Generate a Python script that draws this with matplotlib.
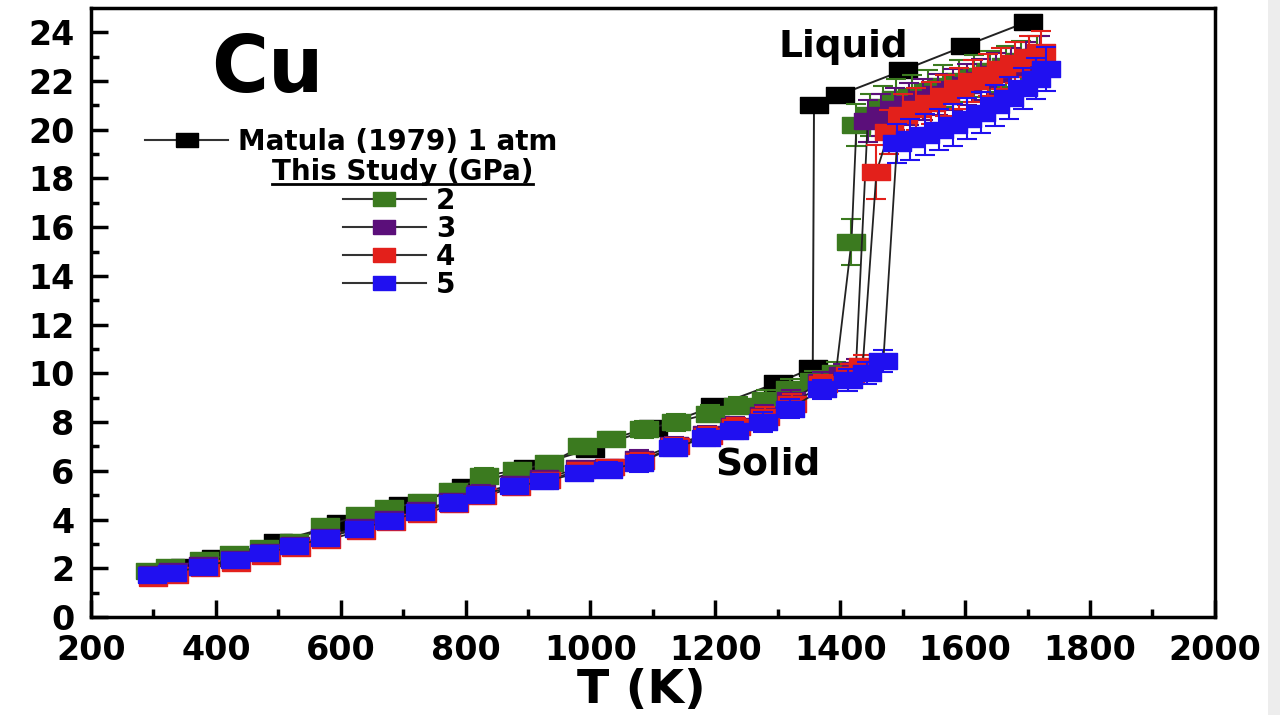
import matplotlib.pyplot as plt
from matplotlib.lines import Line2D
from matplotlib.patches import Rectangle

plt.rcParams['font.family'] = 'DejaVu Sans'
plt.rcParams['font.weight'] = 'bold'

# Matula (1979), 1 atm
T_matula = [300, 350, 400, 500, 600, 700, 800, 900, 1000, 1100, 1200, 1300, 1356,
            1358, 1400, 1500, 1600, 1700]
rho_matula = [1.72, 2.06, 2.41, 3.10, 3.84, 4.58, 5.33, 6.13, 6.90, 7.74, 8.66, 9.62, 10.22,
              21.03, 21.44, 22.43, 23.44, 24.43]

# this study, 2 GPa
T_2 = [294, 327, 381, 429, 477, 525, 575, 631, 678, 730, 779, 830, 882, 934, 986, 1033,
       1085, 1137, 1191, 1237, 1281, 1320, 1358, 1393, 1418, 1426, 1447, 1468, 1490, 1515,
       1540, 1565, 1590, 1615, 1640, 1665, 1690, 1715]
rho_2 = [1.90, 2.04, 2.34, 2.57, 2.84, 3.10, 3.72, 4.18, 4.46, 4.74, 5.18, 5.80, 6.02, 6.31,
         7.00, 7.31, 7.70, 8.00, 8.35, 8.67, 8.92, 9.36, 9.70, 10.00, 15.40, 20.20, 20.60,
         20.95, 21.25, 21.40, 21.60, 21.80, 22.00, 22.20, 22.40, 22.60, 22.80, 23.00]
err_2 = [0.2, 0.2, 0.2, 0.2, 0.2, 0.25, 0.25, 0.25, 0.25, 0.25, 0.3, 0.3, 0.3, 0.3, 0.3,
         0.3, 0.35, 0.35, 0.35, 0.35, 0.4, 0.4, 0.4, 0.45, 0.95, 0.85, 0.85, 0.85, 0.85,
         0.85, 0.85, 0.85, 0.85, 0.85, 0.85, 0.85, 0.85, 0.85]

# 3 GPa
T_3 = [299, 331, 380, 431, 478, 526, 575, 631, 678, 728, 780, 824, 879, 926, 983, 1029,
       1078, 1133, 1186, 1231, 1278, 1321, 1371, 1405, 1425, 1444, 1465, 1487, 1510, 1533,
       1556, 1580, 1603, 1626, 1650, 1673, 1697, 1720]
rho_3 = [1.78, 1.88, 2.12, 2.40, 2.68, 2.96, 3.30, 3.70, 4.02, 4.38, 4.76, 5.10, 5.45, 5.70,
         6.10, 6.14, 6.50, 7.05, 7.50, 7.85, 8.30, 8.90, 9.65, 9.95, 10.15, 20.35, 20.60,
         20.85, 21.05, 21.25, 21.45, 21.65, 21.85, 22.05, 22.30, 22.50, 22.75, 23.00]
err_3 = [0.2, 0.2, 0.2, 0.2, 0.2, 0.25, 0.25, 0.25, 0.25, 0.25, 0.3, 0.3, 0.3, 0.3, 0.3,
         0.3, 0.35, 0.35, 0.35, 0.35, 0.4, 0.4, 0.4, 0.45, 0.45, 0.85, 0.85, 0.85, 0.85,
         0.85, 0.85, 0.85, 0.85, 0.85, 0.85, 0.85, 0.85, 0.85]

# 4 GPa
T_4 = [300, 333, 382, 433, 480, 528, 577, 633, 680, 730, 782, 826, 881, 928, 985, 1031,
       1080, 1135, 1188, 1233, 1280, 1323, 1373, 1416, 1436, 1458, 1478, 1500, 1522, 1545,
       1568, 1590, 1613, 1636, 1658, 1680, 1702, 1722]
rho_4 = [1.62, 1.72, 2.00, 2.22, 2.52, 2.82, 3.15, 3.55, 3.90, 4.22, 4.62, 4.95, 5.32, 5.62,
         6.02, 6.15, 6.40, 7.00, 7.45, 7.80, 8.20, 8.75, 9.55, 9.95, 10.30, 18.26, 19.90,
         20.60, 20.85, 21.10, 21.40, 21.70, 22.00, 22.25, 22.50, 22.75, 23.00, 23.20]
err_4 = [0.2, 0.2, 0.2, 0.2, 0.2, 0.25, 0.25, 0.25, 0.25, 0.25, 0.3, 0.3, 0.3, 0.3, 0.3,
         0.3, 0.35, 0.35, 0.35, 0.35, 0.4, 0.4, 0.4, 0.45, 0.45, 1.1, 0.9, 0.85, 0.85,
         0.85, 0.85, 0.85, 0.85, 0.85, 0.85, 0.85, 0.85, 0.85]

# 5 GPa
T_5 = [297, 330, 379, 430, 477, 525, 574, 630, 677, 727, 779, 823, 878, 925, 982, 1028,
       1077, 1132, 1185, 1230, 1277, 1320, 1370, 1413, 1443, 1469, 1491, 1512, 1535, 1558,
       1580, 1603, 1625, 1648, 1670, 1692, 1713, 1730]
rho_5 = [1.73, 1.82, 2.07, 2.35, 2.62, 2.90, 3.24, 3.63, 3.95, 4.32, 4.69, 5.02, 5.36, 5.57,
         5.91, 6.05, 6.32, 6.94, 7.35, 7.65, 8.00, 8.55, 9.34, 9.71, 10.00, 10.50, 19.45,
         19.60, 19.80, 20.00, 20.20, 20.45, 20.70, 21.00, 21.30, 21.70, 22.10, 22.50]
err_5 = [0.2, 0.2, 0.2, 0.2, 0.2, 0.25, 0.25, 0.25, 0.25, 0.25, 0.3, 0.3, 0.3, 0.3, 0.3,
         0.3, 0.35, 0.35, 0.35, 0.35, 0.4, 0.4, 0.4, 0.45, 0.45, 0.45, 0.8, 0.85, 0.85,
         0.85, 0.85, 0.85, 0.85, 0.85, 0.85, 0.85, 0.85, 0.9]

labels = ['2', '3', '4', '5']
colors = ['#3b7a1f', '#5b0f7a', '#e3201b', '#2010f0']

# wide flat boxes, like the original
box = [(-1.6, -1), (1.6, -1), (1.6, 1), (-1.6, 1), (-1.6, -1)]

fig = plt.figure(figsize=(12.8, 7.15), dpi=100)
# light grey strip on the right edge of the original image
fig.add_artist(Rectangle((0.991, 0), 0.009, 1, transform=fig.transFigure,
                         facecolor='#ededed', edgecolor='none'))
ax = fig.add_axes([0.0711, 0.137, 0.878, 0.852])

ax.plot(T_matula, rho_matula, '-', color='#222222', lw=1.4, marker=box, ms=19.5,
        mfc='black', mec='black')

series = [(T_2, rho_2, err_2), (T_3, rho_3, err_3), (T_4, rho_4, err_4), (T_5, rho_5, err_5)]
for (T, rho, err), c in zip(series, colors):
    ax.errorbar(T, rho, yerr=err, fmt='none', ecolor=c, elinewidth=1.5, capsize=7, capthick=1.5)
    ax.plot(T, rho, '-', color='#222222', lw=1.3, marker=box, ms=19.5, mfc=c, mec=c)

ax.set_xlim(200, 2000)
ax.set_ylim(0, 25)
ax.set_xticks(range(200, 2001, 200))
ax.set_xticks(range(300, 2000, 200), minor=True)
ax.set_yticks(range(0, 25, 2))
ax.set_yticks(range(1, 25, 2), minor=True)
ax.tick_params(which='both', direction='in', width=2.5, labelsize=24, top=False, right=False)
ax.tick_params(which='major', length=12)
ax.tick_params(which='minor', length=6)
ax.tick_params(axis='x', which='major', pad=12)
ax.tick_params(axis='y', which='major', pad=12)
for s in ax.spines.values():
    s.set_linewidth(2.5)

fig.text(0.501, 0.034, 'T (K)', fontsize=34, ha='center', va='center')
ax.text(0.157, 0.898, 'Cu', fontsize=56, ha='center', va='center', transform=ax.transAxes)
ax.text(0.669, 0.936, 'Liquid', fontsize=27, ha='center', va='center', transform=ax.transAxes)
ax.text(0.602, 0.250, 'Solid', fontsize=27, ha='center', va='center', transform=ax.transAxes)

# legends
h_m = Line2D([], [], color='#333333', lw=1.5, marker=box, ms=16, mfc='black', mec='black')
leg1 = ax.legend([h_m], ['Matula (1979) 1 atm'], loc='center left', bbox_to_anchor=(0.048, 0.78),
                 frameon=False, fontsize=20, handlelength=3.0, handletextpad=0.35,
                 borderpad=0, borderaxespad=0)
ax.add_artist(leg1)

handles = [Line2D([], [], color='#333333', lw=1.5, marker=box, ms=16, mfc=c, mec=c)
           for c in colors]
ax.legend(handles, labels, loc='upper left', bbox_to_anchor=(0.224, 0.706), frameon=False,
          fontsize=20, handlelength=3.0, handletextpad=0.35, labelspacing=0,
          borderpad=0, borderaxespad=0)

title = ax.text(0.161, 0.731, 'This Study (GPa)', fontsize=20, ha='left', va='center',
                transform=ax.transAxes)
fig.canvas.draw()
bb = title.get_window_extent()
inv = fig.transFigure.inverted()
(x0, y0), (x1, _) = inv.transform([[bb.x0, bb.y0], [bb.x1, bb.y0]])
fig.add_artist(Line2D([x0, x1], [y0 + 0.002, y0 + 0.002], color='black', lw=2,
                      transform=fig.transFigure))

fig.savefig('out.png', dpi=100)
